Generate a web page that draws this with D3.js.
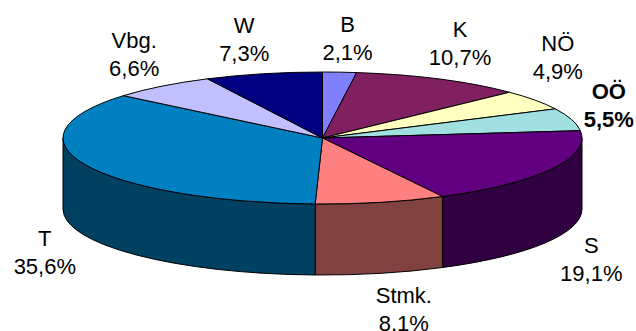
<!DOCTYPE html>
<html>
<head>
<meta charset="utf-8">
<script src="https://cdn.jsdelivr.net/npm/d3@7/dist/d3.min.js"></script>
<style>
  html, body { margin: 0; padding: 0; background: #fff; }
  svg { display: block; }
  text { font-family: "Liberation Sans", Arial, sans-serif; font-size: 22px; fill: #000; }
</style>
</head>
<body>
<svg id="chart" width="636" height="331"></svg>
<script>
// Share by federal state (Bundesland), clockwise from 12 o'clock
const states = ["B", "K", "NÖ", "OÖ", "S", "Stmk.", "T", "Vbg.", "W"];
const shares = [2.1, 10.7, 4.9, 5.5, 19.1, 8.1, 35.6, 6.6, 7.3];
const shareLabels = ["2,1%", "10,7%", "4,9%", "5,5%", "19,1%", "8,1%", "35,6%", "6,6%", "7,3%"];
const boldStates = ["OÖ"];

// Slice colours (top face); the visible wall uses a darker shade
const colors = ["#8080FF", "#802060", "#FFFFC0", "#A0E0E0", "#600080", "#FF8080", "#0080C0", "#C0C0FF", "#000080"];

// Geometry of the tilted disc
const cx = 322.5, cy = 138, rx = 259.5, ry = 66, depth = 71;
// Distance of the label block beyond the rim, plus per-label fine adjustments
const labelGapX = 45, labelGapY = 40;
const labelNudge = {"W": [-9, 4], "B": [5, 6], "NÖ": [-14, -20], "OÖ": [-6, -3], "Stmk.": [13, -3]};

const svg = d3.select("#chart");

const pie = d3.pie().sort(null).value(d => d.v).startAngle(0).endAngle(2 * Math.PI);
const arcs = pie(states.map((s, i) => ({ s, v: shares[i], lab: shareLabels[i], c: colors[i] })));

const px = a => cx + rx * Math.sin(a);
const py = (a, dy = 0) => cy + dy - ry * Math.cos(a);

// Visible wall: the front half of the rim, angles between 90° and 270°
const wallLo = Math.PI / 2, wallHi = 3 * Math.PI / 2;
const wallSlices = arcs
  .map(d => ({ d, a0: Math.max(d.startAngle, wallLo), a1: Math.min(d.endAngle, wallHi) }))
  .filter(w => w.a1 > w.a0);

const wallPath = w => {
  const large = (w.a1 - w.a0) > Math.PI ? 1 : 0;
  return `M${px(w.a0)},${py(w.a0)}` +
    `A${rx},${ry} 0 ${large} 1 ${px(w.a1)},${py(w.a1)}` +
    `L${px(w.a1)},${py(w.a1, depth)}` +
    `A${rx},${ry} 0 ${large} 0 ${px(w.a0)},${py(w.a0, depth)}Z`;
};

svg.append("g").selectAll("path").data(wallSlices).join("path")
  .attr("d", wallPath)
  .attr("fill", w => d3.color(w.d.data.c).darker(1.9).formatHex())
  .attr("stroke", "#000").attr("stroke-width", 1).attr("stroke-linejoin", "round");

// Top faces
const topPath = d => {
  const large = (d.endAngle - d.startAngle) > Math.PI ? 1 : 0;
  return `M${cx},${cy}L${px(d.startAngle)},${py(d.startAngle)}` +
    `A${rx},${ry} 0 ${large} 1 ${px(d.endAngle)},${py(d.endAngle)}Z`;
};

svg.append("g").selectAll("path").data(arcs).join("path")
  .attr("d", topPath)
  .attr("fill", d => d.data.c)
  .attr("stroke", "#000").attr("stroke-width", 1).attr("stroke-linejoin", "round");

// Labels: name above, percentage below
const lineGap = 28, capH = 15.5;
svg.append("g").selectAll("text").data(arcs).join("text")
  .attr("text-anchor", "middle")
  .attr("font-weight", d => boldStates.includes(d.data.s) ? "bold" : "normal")
  .each(function (d) {
    const m = (d.startAngle + d.endAngle) / 2;
    const c = Math.cos(m), s = Math.sin(m);
    const base = c < 0 ? cy + depth : cy;
    const n = labelNudge[d.data.s] || [0, 0];
    const x = cx + (rx + labelGapX) * s + n[0];
    const yc = base - (ry + labelGapY) * c + n[1];
    const y1 = yc - (capH + lineGap) / 2 + capH;
    const t = d3.select(this);
    t.append("tspan").attr("x", x).attr("y", y1).text(d.data.s);
    t.append("tspan").attr("x", x).attr("y", y1 + lineGap).text(d.data.lab);
  });
</script>
</body>
</html>
